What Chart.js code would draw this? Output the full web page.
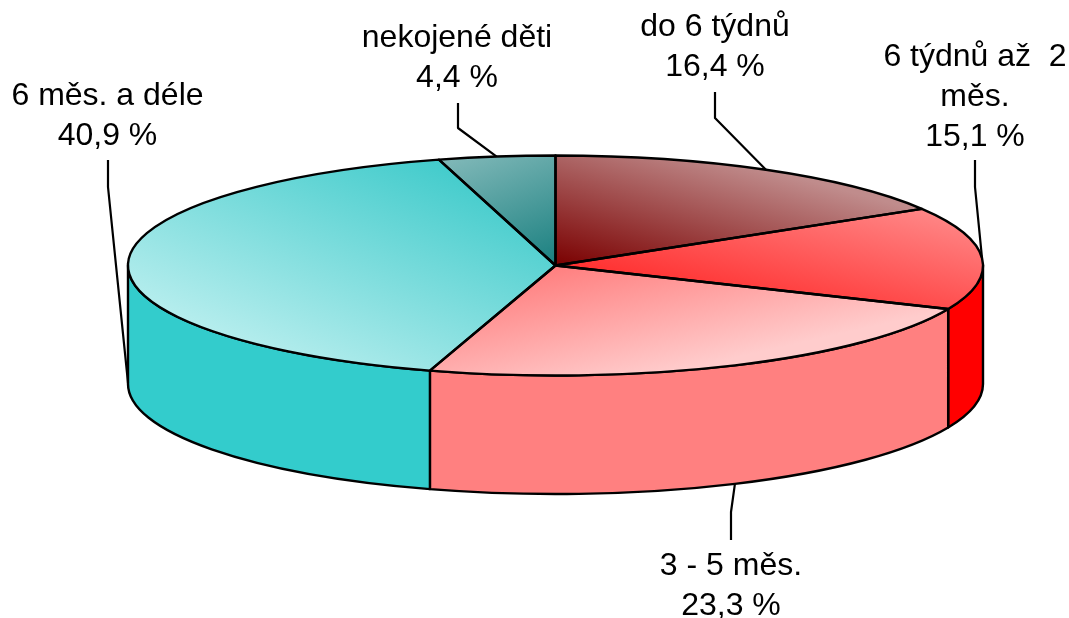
<!DOCTYPE html>
<html lang="cs">
<head>
  <meta charset="UTF-8">
  <title>Délka kojení</title>
  <style>
    html, body { margin: 0; background: #fff; }
    canvas { display: block; }
  </style>
</head>
<body>
<canvas id="pie" width="1069" height="618"></canvas>

<script src="https://cdn.jsdelivr.net/npm/chart.js@4/dist/chart.umd.min.js"></script>
<script>
  const categories = ['do 6 týdnů', '6 týdnů až  2 měs.', '3 - 5 měs.', '6 měs. a déle', 'nekojené děti'];
  const shares = [16.4, 15.1, 23.3, 40.9, 4.4];
  const wallColors = ['#7a0000', '#ff0000', '#ff8080', '#33cccc', '#1a8080'];

  // size of the tilted pie on screen
  const RX = 427.5, RY = 110, DEPTH = 118.5;

  // top face gradients, given in screen pixels: [x0, y0, x1, y1, from, to]
  const faceGradients = [
    [555, 265, 594, 122, '#7a0000', '#c08c8c'],
    [560, 265, 590, 135, '#ff3030', '#ff8585'],
    [555, 268, 583, 392, '#ff8080', '#ffcccc'],
    [440, 165, 340, 394, '#44cccc', '#b8eeee'],
    [553, 265, 501, 137, '#1a8080', '#80b8b8']
  ];

  // label centre, first baseline, leader x, start y and elbow y per slice; foot = leader ends at the wall bottom
  const labelPlaces = [
    { x: 715, y: 36, lines: ['do 6 týdnů'], lead: [92, 118], leadX: 715 },
    { x: 975, y: 66, lines: ['6 týdnů až  2', 'měs.'], lead: [160, 187], leadX: 975 },
    { x: 731, y: 575, lines: ['3 - 5 měs.'], lead: [540, 512], leadX: 731, foot: true },
    { x: 107.5, y: 105, lines: ['6 měs. a déle'], lead: [160, 187], leadX: 108, foot: true },
    { x: 457, y: 47, lines: ['nekojené děti'], lead: [103, 128], leadX: 458 }
  ];

  function pieCenter(chart) {
    const a = chart.chartArea;
    return { x: (a.left + a.right) / 2, y: (a.top + a.bottom) / 2, r: Math.min(a.right - a.left, a.bottom - a.top) / 2 };
  }

  // gradient is wanted in screen space but gets filled under the squash transform
  function faceGradient(context) {
    const chart = context.chart;
    const spec = faceGradients[context.dataIndex];
    if (!chart.chartArea) return spec[4];
    const c = pieCenter(chart);
    const sx = RX / c.r, sy = RY / c.r;
    const gx = spec[2] - spec[0], gy = spec[3] - spec[1];
    const g2 = gx * gx + gy * gy;
    const nx = sx * gx / g2, ny = sy * gy / g2;
    const n2 = nx * nx + ny * ny;
    const px = c.x + (spec[0] - c.x) / sx, py = c.y + (spec[1] - c.y) / sy;
    const grad = chart.ctx.createLinearGradient(px, py, px + nx / n2, py + ny / n2);
    grad.addColorStop(0, spec[4]);
    grad.addColorStop(1, spec[5]);
    return grad;
  }

  const tiltPlugin = {
    id: 'tilt',
    beforeDatasetsDraw(chart) {
      const ctx = chart.ctx;
      const c = pieCenter(chart);
      ctx.save();
      ctx.lineWidth = 2.4;
      ctx.strokeStyle = '#000';
      ctx.lineJoin = 'round';
      // side walls, only the part facing the viewer
      chart.getDatasetMeta(0).data.forEach((arc, i) => {
        const from = Math.max(arc.startAngle, 0);
        const to = Math.min(arc.endAngle, Math.PI);
        if (to <= from) return;
        ctx.beginPath();
        ctx.ellipse(c.x, c.y, RX, RY, 0, from, to);
        ctx.ellipse(c.x, c.y + DEPTH, RX, RY, 0, to, from, true);
        ctx.closePath();
        ctx.fillStyle = wallColors[i];
        ctx.fill();
        ctx.stroke();
      });
      ctx.restore();

      ctx.save();
      ctx.translate(c.x, c.y);
      ctx.scale(RX / c.r, RY / c.r);
      ctx.translate(-c.x, -c.y);
    },
    afterDatasetsDraw(chart) {
      const ctx = chart.ctx;
      ctx.restore();
      const c = pieCenter(chart);

      ctx.save();
      ctx.lineWidth = 2.4;
      ctx.strokeStyle = '#000';
      ctx.lineJoin = 'round';
      chart.getDatasetMeta(0).data.forEach(arc => {
        ctx.beginPath();
        ctx.moveTo(c.x, c.y);
        ctx.ellipse(c.x, c.y, RX, RY, 0, arc.startAngle, arc.endAngle);
        ctx.closePath();
        ctx.stroke();
      });

      // leaders and labels
      ctx.lineWidth = 2.2;
      ctx.fillStyle = '#000';
      ctx.font = '32px "Liberation Sans", Arial, sans-serif';
      ctx.textAlign = 'center';
      chart.getDatasetMeta(0).data.forEach((arc, i) => {
        const place = labelPlaces[i];
        const mid = (arc.startAngle + arc.endAngle) / 2;
        const ex = c.x + RX * Math.cos(mid);
        let ey = c.y + RY * Math.sin(mid);
        if (place.foot) ey += DEPTH;
        ctx.beginPath();
        ctx.moveTo(place.leadX, place.lead[0]);
        ctx.lineTo(place.leadX, place.lead[1]);
        ctx.lineTo(ex, ey);
        ctx.stroke();

        const text = place.lines.concat(shares[i].toFixed(1).replace('.', ',') + ' %');
        text.forEach((line, n) => ctx.fillText(line, place.x, place.y + n * 40));
      });
      ctx.restore();
    }
  };

  new Chart(document.getElementById('pie').getContext('2d'), {
    type: 'pie',
    data: {
      labels: categories,
      datasets: [{
        data: shares,
        backgroundColor: faceGradient,
        borderWidth: 0,
        clip: false
      }]
    },
    options: {
      responsive: false,
      animation: false,
      layout: { padding: { left: 42, right: 0, top: 0, bottom: 87 } },
      plugins: { legend: { display: false }, tooltip: { enabled: false } }
    },
    plugins: [tiltPlugin]
  });
</script>
</body>
</html>
